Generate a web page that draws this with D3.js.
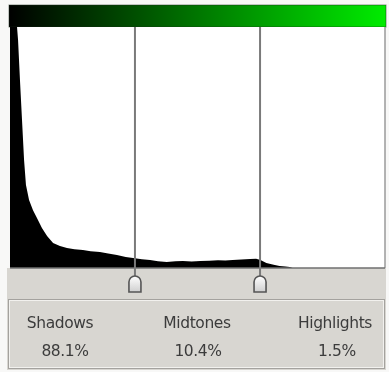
<!DOCTYPE html>
<html>
<head>
<meta charset="utf-8">
<script src="https://cdn.jsdelivr.net/npm/d3@7"></script>
<style>
  html, body { margin: 0; padding: 0; background: #f8f8f7; }
  svg { display: block; filter: blur(0.45px); }
  text { font-family: "DejaVu Sans", Arial, sans-serif; }
</style>
</head>
<body>
<svg id="chart" width="389" height="372"></svg>
<script>
// ---- data ----
const categories = ["Shadows", "Midtones", "Highlights"];
const percents = [88.1, 10.4, 1.5];
const sliderLevels = [85.3, 170.7];
// histogram: tonal level (0-255) and relative pixel count (% of visible max)
const histLevels = [0, 4.8, 5.5, 6.8, 8.2, 9.6, 10.9, 13, 15.7, 18.4, 21.8, 25.3, 29.4, 34.1, 38.9, 44, 49.8, 55, 61.4, 67, 73, 79, 84, 90, 95.6, 101, 107, 113, 118, 124, 130, 136, 142, 147, 152, 158, 164, 168, 171, 175, 180, 184, 188, 191, 193];
const histCounts = [100, 100, 94.6, 78, 61.4, 44.8, 34.4, 28.2, 24, 20.7, 16.6, 13.3, 10.4, 9.1, 8.3, 7.8, 7.5, 7, 6.6, 6, 5.4, 4.6, 4.1, 3.6, 3.3, 2.8, 2.5, 2.8, 2.9, 2.7, 2.9, 3.0, 3.2, 3.1, 3.3, 3.5, 3.7, 3.8, 3.3, 2.1, 1.4, 0.8, 0.6, 0.4, 0];

// ---- layout ----
const plot = { left: 10, right: 385, top: 27, bottom: 268 };
const svg = d3.select("#chart");

const x = d3.scaleLinear().domain([0, 256]).range([plot.left, plot.right]);
const y = d3.scaleLinear().domain([0, 100]).range([plot.bottom, plot.top]).clamp(true);

const defs = svg.append("defs");
const grad = defs.append("linearGradient").attr("id", "g").attr("x1", "0%").attr("x2", "100%");
grad.append("stop").attr("offset", "0%").attr("stop-color", "#000");
grad.append("stop").attr("offset", "100%").attr("stop-color", "#00ec00");
const mg = defs.append("linearGradient").attr("id", "mg").attr("x1", "0").attr("x2", "0").attr("y1", "0").attr("y2", "1");
mg.append("stop").attr("offset", "0%").attr("stop-color", "#ffffff");
mg.append("stop").attr("offset", "100%").attr("stop-color", "#cfcfcf");

// gray lower panel
svg.append("rect").attr("x", 7).attr("y", plot.bottom).attr("width", 379).attr("height", 102)
  .attr("fill", "#d8d6d1");

// gradient bar
svg.append("rect").attr("x", 9).attr("y", 5).attr("width", 377).attr("height", 22)
  .attr("fill", "url(#g)").attr("stroke", "#1a2a1a").attr("stroke-width", 1).attr("stroke-opacity", 0.5);

// plot area
svg.append("rect").attr("x", plot.left).attr("y", plot.top)
  .attr("width", plot.right - plot.left).attr("height", plot.bottom - plot.top)
  .attr("fill", "#ffffff");

// histogram
const pts = histLevels.map((l, i) => [l, histCounts[i]]);
const area = d3.area().x(d => x(d[0])).y0(plot.bottom).y1(d => y(d[1])).curve(d3.curveLinear);
svg.append("path").datum(pts).attr("d", area).attr("fill", "#000");

// plot frame
svg.append("line").attr("x1", plot.right).attr("x2", plot.right).attr("y1", plot.top).attr("y2", plot.bottom)
  .attr("stroke", "#9a9a9a").attr("stroke-width", 1.5);
svg.append("line").attr("x1", plot.left).attr("x2", plot.right).attr("y1", plot.bottom).attr("y2", plot.bottom)
  .attr("stroke", "#6f6f6f").attr("stroke-width", 1.5);

// slider lines + markers
sliderLevels.forEach(l => {
  const cx = x(l);
  svg.append("line").attr("x1", cx).attr("x2", cx).attr("y1", plot.top).attr("y2", 276)
    .attr("stroke", "#7a7a7a").attr("stroke-width", 2);
  const r = 6, top = 276, bot = 292;
  svg.append("path")
    .attr("d", `M${cx - r},${bot} L${cx - r},${top + r} A${r},${r} 0 0 1 ${cx + r},${top + r} L${cx + r},${bot} Z`)
    .attr("fill", "url(#mg)").attr("stroke", "#555").attr("stroke-width", 1.6);
});

// etched box
svg.append("rect").attr("x", 8.5).attr("y", 299.5).attr("width", 376).attr("height", 69)
  .attr("fill", "none").attr("stroke", "#a4a29e").attr("stroke-width", 1);
svg.append("rect").attr("x", 9.5).attr("y", 300.5).attr("width", 374).attr("height", 67)
  .attr("fill", "none").attr("stroke", "#f2f1ee").attr("stroke-width", 1);

// labels
const labelX = [60, 197, 335];
const valueX = [65, 198, 337];
svg.selectAll("text.cat").data(categories).enter().append("text")
  .attr("class", "cat").attr("x", (d, i) => labelX[i]).attr("y", 328)
  .attr("text-anchor", "middle").attr("font-size", 15.5).attr("letter-spacing", -0.4).attr("fill", "#3c3c3c")
  .text(d => d);
svg.selectAll("text.val").data(percents).enter().append("text")
  .attr("class", "val").attr("x", (d, i) => valueX[i]).attr("y", 356)
  .attr("text-anchor", "middle").attr("font-size", 15.5).attr("letter-spacing", -0.4).attr("fill", "#3c3c3c")
  .text(d => d.toFixed(1) + "%");
</script>
</body>
</html>
